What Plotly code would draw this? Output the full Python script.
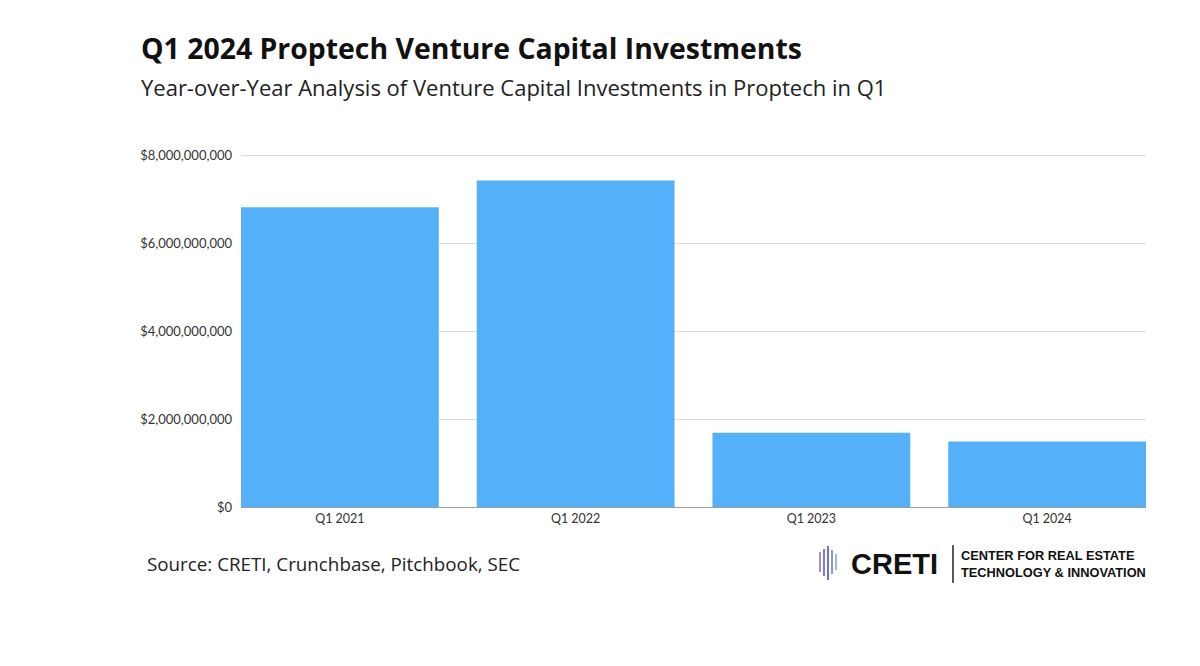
import plotly.graph_objects as go

# Dados
quarters = ["Q1 2021", "Q1 2022", "Q1 2023", "Q1 2024"]
investments = [6.82e9, 7.43e9, 1.69e9, 1.49e9]
y_ticks = [0, 2e9, 4e9, 6e9, 8e9]
y_tick_labels = ["$0", "$2,000,000,000", "$4,000,000,000", "$6,000,000,000", "$8,000,000,000"]

title = "Q1 2024 Proptech Venture Capital Investments"
subtitle = "Year-over-Year Analysis of Venture Capital Investments in Proptech in Q1"
source = "Source: CRETI, Crunchbase, Pitchbook, SEC"

bar_color = "#55b0fa"
gap = 0.161

fig = go.Figure(go.Bar(
    x=quarters,
    y=investments,
    marker=dict(color=bar_color, line=dict(width=0)),
    hoverinfo="x+y",
))

# área do gráfico: x 241..1146, y 155 ($8B) .. 507 ($0) na tela
top_ratio = 1 + 356 * (1 - 8 / 8.1) / 352

fig.update_layout(
    width=1200,
    height=666,
    paper_bgcolor="white",
    plot_bgcolor="white",
    margin=dict(l=233, r=62, t=143, b=167),
    bargap=gap,
    showlegend=False,
    font=dict(family="Lato, sans-serif", color="#333333"),
    xaxis=dict(
        range=[-0.5 + gap / 2, len(quarters) - 0.5 - gap / 2],
        showgrid=False,
        showline=True,
        linecolor="#9e9e9e",
        linewidth=1,
        ticks="",
        tickfont=dict(size=12.5, color="#333333"),
    ),
    yaxis=dict(
        range=[0, 8.1e9],
        tickvals=y_ticks,
        ticktext=y_tick_labels,
        showgrid=True,
        gridcolor="#dcdcdc",
        gridwidth=1,
        zeroline=False,
        showline=False,
        ticks="",
        ticklabelstandoff=8,
        tickfont=dict(size=13, color="#333333"),
    ),
)

H = 356.0


def py(screen_y):
    # posição vertical em coordenadas "paper" a partir do pixel da tela
    return (507 - screen_y) / H


def px(screen_x):
    return (screen_x - 241) / 905


# Título e subtítulo
fig.add_annotation(
    text="<b>" + title + "</b>", xref="paper", yref="paper",
    x=px(139), y=py(48),
    xanchor="left", yanchor="middle", showarrow=False,
    font=dict(family="Open Sans", size=28.4, color="#111111"),
)
fig.add_annotation(
    text=subtitle, xref="paper", yref="paper",
    x=px(139), y=py(87),
    xanchor="left", yanchor="middle", showarrow=False,
    font=dict(family="Open Sans", size=22, color="#222222"),
)

# Fonte
fig.add_annotation(
    text=source, xref="paper", yref="paper",
    x=px(145), y=py(564),
    xanchor="left", yanchor="middle", showarrow=False,
    font=dict(family="Open Sans", size=18.8, color="#222222"),
)

# Logo CRETI
fig.add_annotation(
    text="<b>CRETI</b>", xref="paper", yref="paper",
    x=px(849), y=py(564),
    xanchor="left", yanchor="middle", showarrow=False,
    font=dict(family="Liberation Sans", size=29, color="#111111"),
)
fig.add_annotation(
    text="<b>CENTER FOR REAL ESTATE<br>TECHNOLOGY &amp; INNOVATION</b>",
    xref="paper", yref="paper",
    x=px(959), y=py(564),
    xanchor="left", yanchor="middle", showarrow=False, align="left",
    font=dict(family="Liberation Sans", size=12.8, color="#111111"),
)
fig.add_shape(
    type="line", xref="paper", yref="paper",
    x0=px(953), x1=px(953), y0=py(545), y1=py(583),
    line=dict(color="#222222", width=1.5),
)

# Ícone do logo
icon_lines = [
    (820, 552, 820, 572, "#9b8ee8"),
    (824, 549, 824, 576, "#8577e0"),
    (828, 546, 828, 580, "#6f6fd8"),
    (832, 550, 832, 574, "#7d9be8"),
    (836, 554, 836, 570, "#9cb8f0"),
]
for x0, y0, x1, y1, c in icon_lines:
    fig.add_shape(
        type="line", xref="paper", yref="paper",
        x0=px(x0), x1=px(x1), y0=py(y0), y1=py(y1),
        line=dict(color=c, width=2),
    )

fig.write_html("out.html")
